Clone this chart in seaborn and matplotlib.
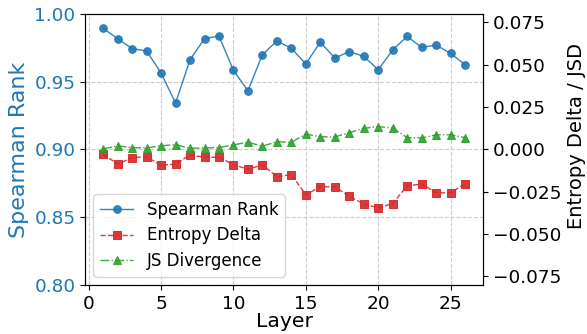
import matplotlib
matplotlib.use("Agg")
import matplotlib.pyplot as plt
import seaborn as sns
import pandas as pd

layers = list(range(1, 27))
spearman = [0.9894, 0.9818, 0.9744, 0.9727, 0.9564, 0.9343, 0.9663, 0.9818, 0.9838, 0.9584,
            0.9434, 0.9700, 0.9801, 0.9747, 0.9631, 0.9793, 0.9675, 0.9722, 0.9688, 0.9589,
            0.9734, 0.9835, 0.9754, 0.9771, 0.9710, 0.9626]
entropy_delta = [-0.0028, -0.0086, -0.0048, -0.0044, -0.0093, -0.0086, -0.0032, -0.0046, -0.0046, -0.0090,
                 -0.0117, -0.0091, -0.0161, -0.0149, -0.0267, -0.0220, -0.0221, -0.0276, -0.0322, -0.0345,
                 -0.0320, -0.0215, -0.0204, -0.0255, -0.0257, -0.0202]
js_divergence = [0.0003, 0.0021, 0.0011, 0.0009, 0.0022, 0.0028, 0.0007, 0.0009, 0.0011, 0.0027,
                 0.0043, 0.0019, 0.0046, 0.0042, 0.0091, 0.0075, 0.0074, 0.0099, 0.0125, 0.0135,
                 0.0127, 0.0070, 0.0068, 0.0086, 0.0087, 0.0070]
x_ticks = [0, 5, 10, 15, 20, 25]
left_ticks = [0.80, 0.85, 0.90, 0.95, 1.00]
right_ticks = [-0.075, -0.05, -0.025, 0.0, 0.025, 0.05, 0.075]

df = pd.DataFrame({"Layer": layers, "Spearman": spearman,
                   "Entropy": entropy_delta, "JSD": js_divergence})

fig, ax1 = plt.subplots(figsize=(5.87, 3.34), dpi=100)
fig.subplots_adjust(left=0.145, right=0.823, top=0.958, bottom=0.147)

blue, red, green = "tab:blue", "tab:red", "tab:green"
tick_size = 13.3

sns.lineplot(data=df, x="Layer", y="Spearman", ax=ax1, color=blue, marker="o",
             markersize=5.5, markeredgecolor=blue, linewidth=1, alpha=0.9,
             label="Spearman Rank", legend=False)
ax1.set_ylim(0.8, 1.0)
ax1.set_yticks(left_ticks)
ax1.set_ylabel("Spearman Rank", color=blue, fontsize=16)
ax1.set_xlabel("Layer", fontsize=14.7, labelpad=-0.5)
ax1.tick_params(axis="y", labelcolor=blue, labelsize=tick_size)
ax1.tick_params(axis="x", labelsize=tick_size)
ax1.set_xticks(x_ticks)
ax1.grid(True, linestyle="--", color="#cccccc", linewidth=0.8)

ax2 = ax1.twinx()
sns.lineplot(data=df, x="Layer", y="Entropy", ax=ax2, color=red, marker="s",
             markersize=5.5, markeredgecolor=red, linewidth=1, linestyle="--", alpha=0.9,
             label="Entropy Delta", legend=False)
sns.lineplot(data=df, x="Layer", y="JSD", ax=ax2, color=green, marker="^",
             markersize=5.5, markeredgecolor=green, linewidth=1, linestyle="-.", alpha=0.9,
             label="JS Divergence", legend=False)
ax2.set_ylim(-0.08, 0.08)
ax2.set_yticks(right_ticks)
ax2.set_ylabel("Entropy Delta / JSD", fontsize=14)
ax2.yaxis.label.set_y(0.55)
ax2.tick_params(axis="y", labelsize=tick_size)
ax1.set_xlim(-0.25, 27.25)

h1, l1 = ax1.get_legend_handles_labels()
h2, l2 = ax2.get_legend_handles_labels()
ax2.legend(h1 + h2, l1 + l2, loc="lower left", fontsize=12, labelspacing=0.45)

fig.savefig("out.png", dpi=100)
